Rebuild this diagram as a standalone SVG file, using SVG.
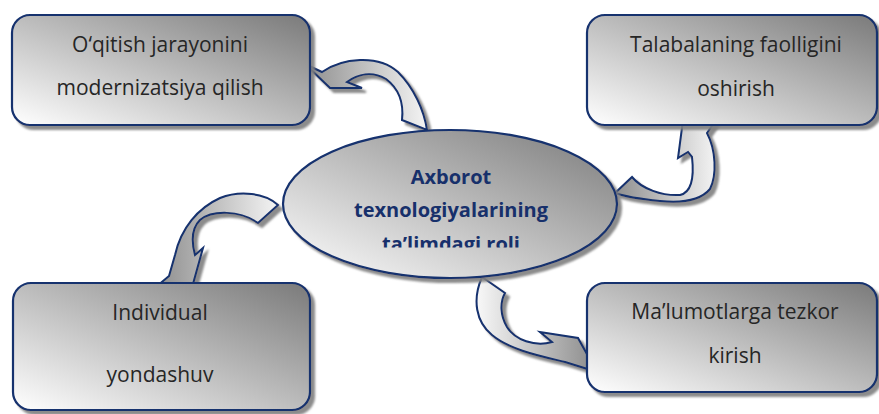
<svg xmlns="http://www.w3.org/2000/svg" width="879" height="414" viewBox="0 0 879 414">
<defs>
<linearGradient id="gBox" x1="0" y1="1" x2="1" y2="0">
<stop offset="0" stop-color="#ffffff"/>
<stop offset="1" stop-color="#7a7a7a"/>
</linearGradient>
<linearGradient id="gA" x1="0" y1="0.5" x2="1" y2="0.5">
<stop offset="0" stop-color="#8e8e8e"/>
<stop offset="1" stop-color="#f4f4f4"/>
</linearGradient>
<linearGradient id="gB" x1="0" y1="0.5" x2="1" y2="0.5">
<stop offset="0" stop-color="#f8f8f8"/>
<stop offset="1" stop-color="#8a8a8a"/>
</linearGradient>
<filter id="sh" x="-10%" y="-10%" width="130%" height="130%">
<feGaussianBlur in="SourceAlpha" stdDeviation="1.2"/>
<feOffset dx="4" dy="4" result="b"/>
<feFlood flood-color="#7f7f7f" flood-opacity="0.9"/>
<feComposite in2="b" operator="in"/>
<feMerge><feMergeNode/><feMergeNode in="SourceGraphic"/></feMerge>
</filter>
<clipPath id="clipEll"><rect x="280" y="120" width="340" height="127.5"/></clipPath>
</defs>
<style>
.box{fill:url(#gBox);stroke:#14306e;stroke-width:2.2;filter:url(#sh)}
.arr{stroke:#14306e;stroke-width:2;stroke-linejoin:miter;filter:url(#sh)}
.t{font-family:"Open Sans","Liberation Sans",sans-serif;font-size:21px;fill:#262626;text-anchor:middle}
.c{font-family:"Open Sans","Liberation Sans",sans-serif;font-size:20px;font-weight:bold;fill:#17306b;text-anchor:middle}
</style>
<g id="connectors">
<path class="arr" fill="url(#gA)" d="M305,64 L322,72 C342,58 378,54 398,72 C414,88 424,110 427,130 L402,120 C404,102 398,88 386,79 C372,71 358,74 347,82 L362,88 L330,88 Z"/>
<path class="arr" fill="url(#gA)" d="M615,193 L632,177 C642,189 662,196 680,195 C693,192 694,175 692,157 L688,152 L678,158 L683,120 L716,120 L707,133 C716,150 717,175 710,189 C700,201 680,203 660,201 C640,199 626,197 615,193 Z"/>
<path class="arr" fill="url(#gA)" d="M278,205 C265,193 240,190 220,198 C198,208 181,228 175,255 L169,276 L157,286 L193,284 L203,248 L195,255 C191,240 192,228 200,220 C212,210 240,210 258,223 Z"/>
<path class="arr" fill="url(#gB)" d="M482,277 C472,300 476,322 492,335 C510,350 540,356 565,362 L597,372 L578,338 L540,332 L552,342 C535,347 515,340 507,327 C500,315 500,302 505,293 Z"/>
</g>
<g id="center">
<ellipse class="box" cx="450" cy="204" rx="167" ry="74"/>
<g clip-path="url(#clipEll)">
<text class="c" x="451" y="184">Axborot</text>
<text class="c" x="451" y="217">texnologiyalarining</text>
<text class="c" x="451" y="251">ta’limdagi roli</text>
</g>
</g>
<g id="node1">
<rect class="box" x="12" y="15" width="298" height="110" rx="18"/>
<text class="t" x="160" y="52">O‘qitish jarayonini</text>
<text class="t" x="160" y="95">modernizatsiya qilish</text>
</g>
<g id="node2">
<rect class="box" x="587" y="15" width="290" height="110" rx="18"/>
<text class="t" x="736" y="52">Talabalaning faolligini</text>
<text class="t" x="736" y="96">oshirish</text>
</g>
<g id="node3">
<rect class="box" x="13" y="283" width="297" height="127" rx="18"/>
<text class="t" x="160" y="320">Individual</text>
<text class="t" x="160" y="382">yondashuv</text>
</g>
<g id="node4">
<rect class="box" x="587" y="283" width="290" height="109" rx="18"/>
<text class="t" x="735" y="319">Ma’lumotlarga tezkor</text>
<text class="t" x="735" y="363">kirish</text>
</g>
</svg>
